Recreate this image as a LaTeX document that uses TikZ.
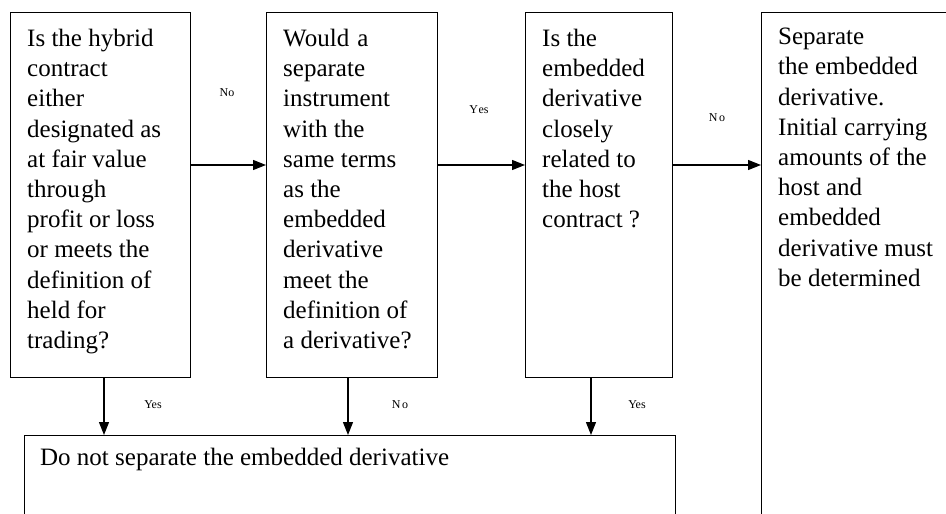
\documentclass[tikz,border=0pt]{standalone}
\usepackage{fontspec}
\setmainfont{Liberation Serif}[Ligatures=TeX]
\newfontfamily\tnr{Liberation Serif}
\usetikzlibrary{arrows.meta}
\tikzset{
  box/.style={draw, line width=1.3pt, rectangle, inner sep=0pt, anchor=north west},
  txt/.style={anchor=north west, inner sep=0pt, align=left, font=\tnr\fontsize{25}{30.2}\selectfont},
  lbl/.style={inner sep=0pt, font=\tnr\fontsize{12}{14}\selectfont},
  arr/.style={line width=1.3pt, -{Triangle[length=13pt,width=10pt]}}
}
\begin{document}
\begin{tikzpicture}[x=1pt,y=-1pt]
\clip (0,0) rectangle (946,514);
\fill[white] (0,0) rectangle (946,514);
% boxes
\node[box, minimum width=180pt, minimum height=365pt] (b1) at (10,12) {};
\node[box, minimum width=171pt, minimum height=365pt] (b2) at (266,12) {};
\node[box, minimum width=147pt, minimum height=365pt] (b3) at (525,12) {};
\node[box, minimum width=220pt, minimum height=530pt] (b4) at (761,12) {};
\node[box, minimum width=651pt, minimum height=120pt] (b5) at (24,435) {};
% texts
\node[txt] (t1) at (27,29) {Is the hybrid\\contract\\either\\designated as\\at fair value\\throu\kern1.5pt gh\\profit or loss\\or meets the\\definition of\\held for\\trading?};
\node[txt] (t2) at (283,29) {Would\kern2pt\ a\\separate\\instrument\\with the\\same terms\\as the\\embedded\\derivative\\meet the\\definition of\\a derivative?};
\node[txt] (t3) at (542,29) {Is the\\embedded\\derivative\\closely\\related to\\the host\\contract ?};
\node[txt] (t4) at (778,28) {Separate\\the embedded\\derivative.\\Initial carrying\\amounts of the\\host and\\embedded\\derivative must\\be determined};
\node[txt] (t5) at (40,448) {Do not separate the embedded derivative};
% connector guides
\coordinate (h) at (0,165);
\coordinate (v1) at (104,0);
\coordinate (v2) at (348,0);
\coordinate (v3) at (591,0);
% horizontal arrows
\draw[arr] (b1.east |- h) -- (b2.west |- h);
\draw[arr] (b2.east |- h) -- (b3.west |- h);
\draw[arr] (b3.east |- h) -- (b4.west |- h);
% vertical arrows
\draw[arr] (v1 |- b1.south) -- (v1 |- b5.north);
\draw[arr] (v2 |- b2.south) -- (v2 |- b5.north);
\draw[arr] (v3 |- b3.south) -- (v3 |- b5.north);
% labels
\node[lbl] (l1) at (227,93) {No};
\node[lbl] (l2) at (479,110) {Y\kern0.5pt es};
\node[lbl] (l3) at (717,118) {N\kern1.5pt o};
\node[lbl] (l4) at (153,405) {Yes};
\node[lbl] (l5) at (400,405) {N\kern1.5pt o};
\node[lbl] (l6) at (637,405) {Yes};
\end{tikzpicture}
\end{document}
